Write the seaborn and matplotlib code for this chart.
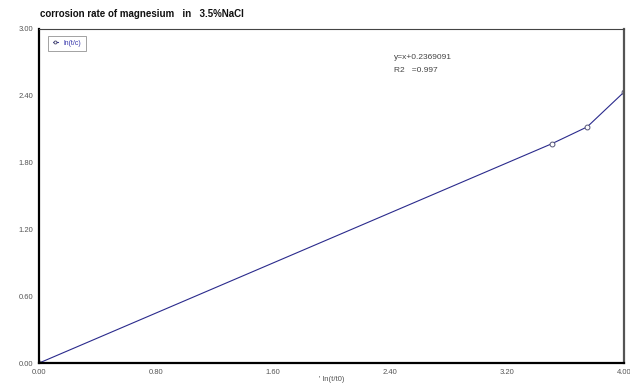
import numpy as np
import pandas as pd
import matplotlib
matplotlib.use("Agg")
import matplotlib.pyplot as plt
import seaborn as sns

# data
ln_t = [0.0, 3.51, 3.75, 4.0]
ln_ratio = [0.0, 1.97, 2.12, 2.43]
x_ticks = [0.0, 0.8, 1.6, 2.4, 3.2, 4.0]
y_ticks = [0.0, 0.6, 1.2, 1.8, 2.4, 3.0]

df = pd.DataFrame({"x": ln_t, "y": ln_ratio})

sns.set_theme(style="white")
plt.rcParams["font.family"] = ["Liberation Sans Narrow", "Liberation Sans", "DejaVu Sans"]

fig = plt.figure(figsize=(6.3, 3.85), dpi=100)
ax = fig.add_axes([0.062, 0.057, 0.928, 0.868])

sns.lineplot(data=df, x="x", y="y", ax=ax, color="#2a2a8c", linewidth=0.8,
             marker="o", markersize=3.5, markerfacecolor="white",
             markeredgecolor="#555577", markeredgewidth=0.7, label="ln(t/c)")

ax.set_xlim(0, 4.0)
ax.set_ylim(0, 3.0)
ax.set_xticks(x_ticks)
ax.set_yticks(y_ticks)
ax.set_xticklabels([f"{v:.2f}" for v in x_ticks], fontsize=5.5, color="#555555")
ax.set_yticklabels([f"{v:.2f}" for v in y_ticks], fontsize=5.5, color="#555555")
ax.tick_params(axis="both", direction="in", length=2, width=0.5, colors="#888888",
               labelcolor="#555555", pad=4)

for side in ["left", "bottom"]:
    ax.spines[side].set_linewidth(1.6)
    ax.spines[side].set_color("black")
ax.spines["top"].set_linewidth(0.8)
ax.spines["top"].set_color("#444444")
ax.spines["right"].set_linewidth(1.6)
ax.spines["right"].set_color("#555555")

ax.set_xlabel("' ln(t/t0)", fontsize=5.5, color="#555555", labelpad=0)
ax.set_ylabel("")

leg = ax.legend(loc="upper left", fontsize=5, frameon=True, fancybox=False,
                handlelength=0.8, borderpad=0.6, bbox_to_anchor=(0.01, 0.99),
                markerscale=0.6)
leg.get_frame().set_edgecolor("#777777")
leg.get_frame().set_linewidth(0.6)
for t in leg.get_texts():
    t.set_color("#3333aa")

ax.text(0.607, 0.91, "y=x+0.2369091", transform=ax.transAxes, fontsize=6, color="#444444")
ax.text(0.607, 0.87, "R2   =0.997", transform=ax.transAxes, fontsize=6, color="#444444")

fig.text(0.063, 0.955, "corrosion rate of magnesium   in   3.5%NaCl", fontsize=7,
         fontweight="bold", color="#111111")

fig.savefig("out.png", dpi=100)
